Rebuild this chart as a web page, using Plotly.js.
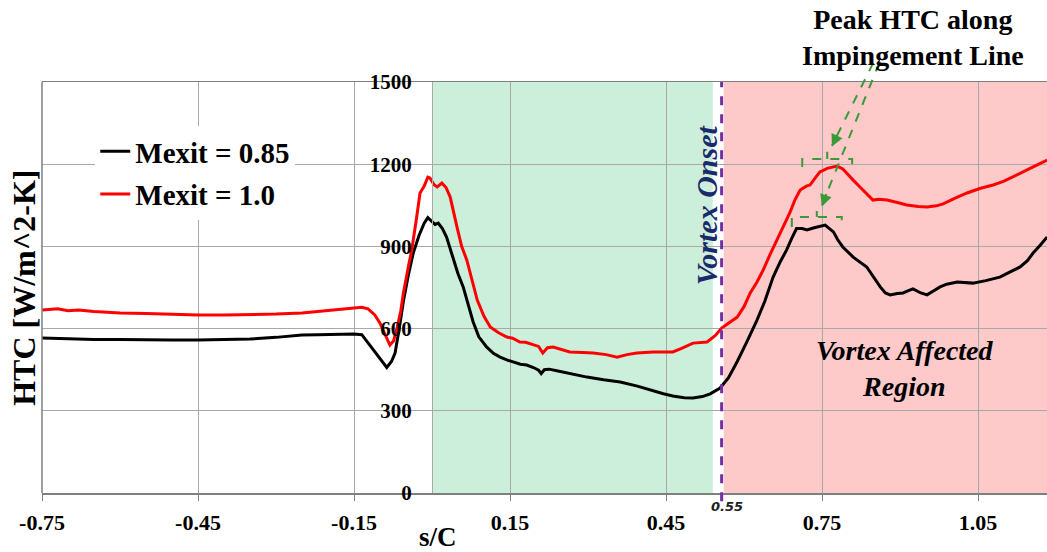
<!DOCTYPE html>
<html>
<head>
<meta charset="utf-8">
<script src="https://cdn.plot.ly/plotly-3.0.1.min.js"></script>
<style>html,body{margin:0;padding:0;background:#fff;}#chart{width:1047px;height:552px;}</style>
</head>
<body>
<div id="chart"></div>
<script>
// ---- Data ----
const sC_085 = [-0.75,-0.70,-0.65,-0.60,-0.55,-0.50,-0.45,-0.40,-0.35,-0.30,-0.25,-0.22,-0.18,-0.15,-0.135,-0.12,-0.105,-0.095,-0.087,-0.078,-0.071,-0.063,-0.055,-0.045,-0.036,-0.025,-0.015,-0.008,0.0,0.006,0.012,0.02,0.028,0.035,0.041,0.05,0.06,0.07,0.079,0.09,0.105,0.118,0.131,0.145,0.156,0.17,0.182,0.195,0.205,0.21,0.216,0.225,0.24,0.26,0.28,0.298,0.33,0.362,0.395,0.425,0.445,0.463,0.485,0.502,0.52,0.535,0.554,0.57,0.587,0.605,0.625,0.64,0.656,0.67,0.682,0.692,0.701,0.712,0.721,0.735,0.756,0.772,0.78,0.79,0.81,0.836,0.85,0.862,0.872,0.881,0.895,0.906,0.915,0.925,0.94,0.952,0.965,0.977,0.99,1.01,1.04,1.065,1.092,1.11,1.131,1.145,1.156,1.17,1.183];
const htc_085 = [566,562,560,560,558,558,558,559,562,568,577,578,580,580,578,540,505,478,458,480,511,600,700,800,876,940,985,1005,990,980,985,965,934,890,850,800,752,690,625,570,533,510,496,485,478,470,467,458,448,436,450,452,446,438,430,423,413,405,390,372,362,354,348,347,352,362,383,420,480,550,631,700,788,845,887,930,965,965,960,968,978,953,925,898,861,825,785,752,730,723,728,730,738,745,730,723,738,752,762,770,766,775,788,805,825,848,876,905,934];

const sC_100 = [-0.75,-0.72,-0.70,-0.68,-0.65,-0.60,-0.55,-0.50,-0.45,-0.40,-0.35,-0.30,-0.25,-0.22,-0.20,-0.18,-0.15,-0.135,-0.123,-0.11,-0.10,-0.09,-0.081,-0.074,-0.068,-0.06,-0.055,-0.045,-0.039,-0.03,-0.023,-0.015,-0.008,-0.004,0.004,0.01,0.019,0.027,0.035,0.048,0.057,0.067,0.077,0.087,0.10,0.112,0.128,0.144,0.155,0.169,0.18,0.194,0.205,0.213,0.222,0.233,0.25,0.265,0.29,0.31,0.335,0.356,0.375,0.394,0.425,0.445,0.463,0.48,0.502,0.529,0.545,0.557,0.575,0.587,0.60,0.612,0.625,0.637,0.65,0.663,0.675,0.688,0.698,0.708,0.72,0.727,0.737,0.746,0.76,0.779,0.79,0.798,0.81,0.823,0.835,0.848,0.86,0.875,0.895,0.913,0.935,0.952,0.97,0.983,1.005,1.029,1.055,1.079,1.10,1.117,1.135,1.156,1.17,1.183];
const htc_100 = [668,672,665,668,662,657,655,652,650,650,651,653,657,662,668,670,675,678,672,650,620,575,540,555,595,665,730,830,887,1000,1095,1120,1153,1150,1125,1117,1131,1115,1080,971,900,850,780,704,645,606,585,569,565,551,550,540,535,511,530,533,522,515,513,511,505,496,505,511,515,516,515,528,547,551,575,602,625,642,680,730,770,814,870,923,975,1022,1070,1106,1120,1124,1150,1172,1185,1193,1183,1168,1142,1117,1093,1069,1072,1069,1060,1051,1046,1044,1048,1055,1075,1095,1112,1124,1138,1153,1170,1190,1203,1215];

const seriesNames = ['Mexit = 0.85', 'Mexit = 1.0'];
const xTickVals = [-0.75,-0.45,-0.15,0.15,0.45,0.75,1.05];
const xTickText = ['-0.75','-0.45','-0.15','0.15','0.45','0.75','1.05'];
const yTickVals = [0,300,600,900,1200,1500];
const yTickText = ['0','300','600','900','1200','1500'];
const vortexOnset = 0.557;
const greenRegion = [0, 0.540];
const pinkRegion = [0.561, 1.1827];

// ---- Styling ----
const SERIF = 'Liberation Serif, "Times New Roman", Times, serif';
const GRID = '#a8a8a8';

const traces = [
  {x: sC_085, y: htc_085, name: seriesNames[0], mode: 'lines', legendgroup: 'a',
   line: {color: '#000000', width: 3}},
  {x: sC_100, y: htc_100, name: seriesNames[1], mode: 'lines', legendgroup: 'b',
   line: {color: '#ff0000', width: 3}}
];

const green = '#3a9a3a';
const layout = {
  width: 1047, height: 552,
  margin: {l: 42, r: 0, t: 82, b: 59},
  paper_bgcolor: '#ffffff', plot_bgcolor: '#ffffff',
  showlegend: true,
  legend: {x: 0.053, y: 0.893, xanchor: 'left', yanchor: 'top', bgcolor: '#ffffff',
           borderwidth: 0, tracegroupgap: 2,
           font: {family: SERIF, size: 29, color: '#000', weight: 'bold'}},
  xaxis: {range: [-0.75, 1.1827], tickmode: 'array', tickvals: xTickVals, ticktext: xTickText,
          showgrid: true, gridcolor: GRID, gridwidth: 1, zeroline: false,
          showline: true, mirror: true, linecolor: '#7f7f7f', linewidth: 1.5,
          ticks: 'outside', ticklen: 6, tickcolor: '#7f7f7f', ticklabelstandoff: 3,
          tickfont: {family: SERIF, size: 22, color: '#000', weight: 'bold'}},
  yaxis: {range: [0, 1500], tickmode: 'array', tickvals: yTickVals, ticktext: yTickText,
          anchor: 'free', position: 0.388,
          showgrid: true, gridcolor: GRID, gridwidth: 1, zeroline: false,
          showline: true, linecolor: GRID, linewidth: 1,
          ticks: '', ticklabelstandoff: 16,
          tickfont: {family: SERIF, size: 21, color: '#000', weight: 'bold'}},
  shapes: [
    {type: 'rect', xref: 'x', yref: 'paper', x0: greenRegion[0], x1: greenRegion[1], y0: 0, y1: 1,
     fillcolor: '#ccefdc', line: {width: 0}, layer: 'below'},
    {type: 'rect', xref: 'x', yref: 'paper', x0: pinkRegion[0], x1: pinkRegion[1], y0: 0, y1: 1,
     fillcolor: '#fdc9c9', line: {width: 0}, layer: 'below'},
    {type: 'line', xref: 'paper', yref: 'paper', x0: 0, x1: 0, y0: 0, y1: 1,
     line: {color: '#7f7f7f', width: 1.5}},
    {type: 'line', xref: 'x', yref: 'paper', x0: vortexOnset, x1: vortexOnset, y0: -0.02, y1: 1,
     line: {color: '#7030a0', width: 3, dash: 'dash'}},
    // brackets around the peaks
    {type: 'path', xref: 'x', yref: 'y', path: 'M 0.712,1190 L 0.712,1219 L 0.808,1219 L 0.808,1190 M 0.760,1219 L 0.760,1245',
     line: {color: green, width: 2, dash: 'dash'}},
    {type: 'path', xref: 'x', yref: 'y', path: 'M 0.692,971 L 0.692,1007 L 0.788,1007 L 0.788,971 M 0.740,1007 L 0.740,1029',
     line: {color: green, width: 2, dash: 'dash'}},
    // pointer lines
    {type: 'line', xref: 'paper', yref: 'paper', x0: 0.827, y0: 1.046, x1: 0.786, y1: 0.845,
     line: {color: green, width: 2, dash: 'dash'}},
    {type: 'line', xref: 'paper', yref: 'paper', x0: 0.833, y0: 1.046, x1: 0.776, y1: 0.700,
     line: {color: green, width: 2, dash: 'dash'}}
  ],
  annotations: [
    {text: '<b>HTC [W/m^2-K]</b>', xref: 'paper', yref: 'paper', x: -0.018, y: 0.499,
     textangle: -90, showarrow: false, xanchor: 'center', yanchor: 'middle',
     font: {family: SERIF, size: 32, color: '#000'}},
    {text: '<b>s/C</b>', xref: 'paper', yref: 'paper', x: 0.394, y: -0.108,
     showarrow: false, xanchor: 'center', yanchor: 'middle',
     font: {family: SERIF, size: 27, color: '#000'}},
    {text: '<b><i>Vortex Onset</i></b>', xref: 'x', yref: 'paper', x: 0.527, y: 0.70,
     textangle: -90, showarrow: false, xanchor: 'center', yanchor: 'middle',
     font: {family: SERIF, size: 30, color: '#1b2a6b'}},
    {text: '<b><i>Vortex Affected<br>Region</i></b>', xref: 'x', yref: 'paper', x: 0.91, y: 0.302,
     showarrow: false, xanchor: 'center', yanchor: 'middle',
     font: {family: SERIF, size: 28, color: '#000'}},
    {text: '<b>Peak HTC along<br>Impingement Line</b>', xref: 'paper', yref: 'paper', x: 0.867, y: 1.109,
     showarrow: false, xanchor: 'center', yanchor: 'middle',
     font: {family: SERIF, size: 28, color: '#000'}},
    {text: '<b><i>0.55</i></b>', xref: 'x', yref: 'paper', x: vortexOnset + 0.01, y: -0.034,
     showarrow: false, xanchor: 'center', yanchor: 'middle',
     font: {family: 'DejaVu Sans, sans-serif', size: 13, color: '#222'}},
    {text: '', xref: 'paper', yref: 'paper', x: 0.786, y: 0.843, ax: 6, ay: -13,
     showarrow: true, arrowhead: 2, arrowsize: 1.2, arrowwidth: 2, arrowcolor: green},
    {text: '', xref: 'paper', yref: 'paper', x: 0.776, y: 0.697, ax: 5, ay: -14,
     showarrow: true, arrowhead: 2, arrowsize: 1.2, arrowwidth: 2, arrowcolor: green}
  ]
};

Plotly.newPlot('chart', traces, layout, {displayModeBar: false, staticPlot: true});
</script>
</body>
</html>
